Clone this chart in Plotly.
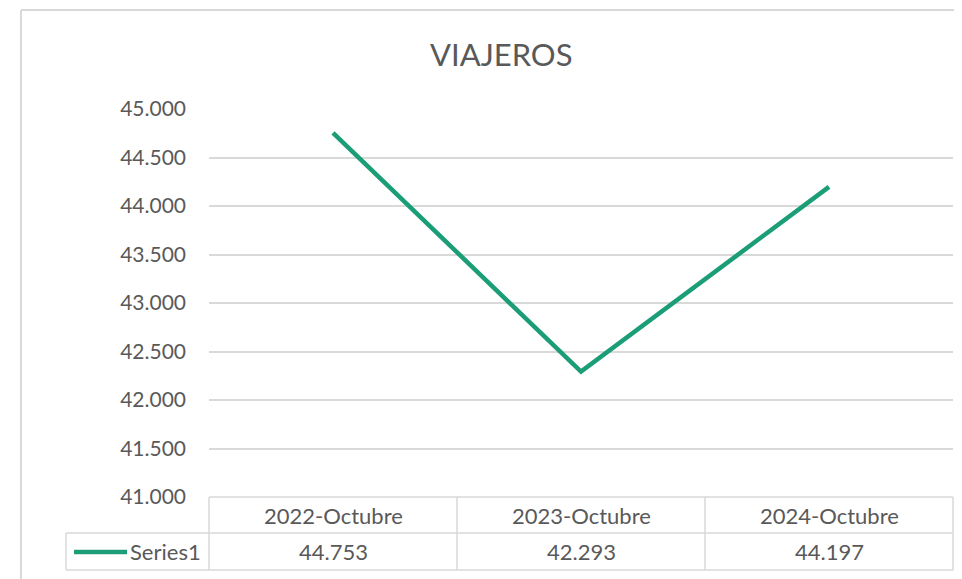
import plotly.graph_objects as go

categories = ["2022-Octubre", "2023-Octubre", "2024-Octubre"]
values = [44753, 42293, 44197]
series_name = "Series1"
title_text = "VIAJEROS"
y_ticks = [41000, 41500, 42000, 42500, 43000, 43500, 44000, 44500, 45000]

W, H = 962, 579
OFF = 8  # page body margin in the browser
FONT = "Lato"
TXT = "#595959"
GRID = "#d9d9d9"
LINE = "#1b9e77"

def px(x):
    return (x - OFF) / W

def py(y):
    return 1 - (y - OFF) / H

x0, x1 = 209, 953
y_top, y_bot = 109, 497
row1_bot, row2_bot = 533, 570
leg_left = 66

def fmt(v):
    return f"{v:,.0f}".replace(",", ".")

fig = go.Figure()
fig.add_trace(go.Scatter(
    x=list(range(len(categories))), y=values, mode="lines",
    line=dict(color=LINE, width=4.5), name=series_name, showlegend=False,
))

shapes = []
border = dict(color=GRID, width=2)
shapes.append(dict(type="line", xref="paper", yref="paper", x0=px(21), x1=1, y0=py(10), y1=py(10), line=border))
shapes.append(dict(type="line", xref="paper", yref="paper", x0=px(21), x1=px(21), y0=0, y1=py(10), line=border))
n = len(categories)
colw = (x1 - x0) / n
hline = dict(color=GRID, width=1.5)
shapes.append(dict(type="line", xref="paper", yref="paper", x0=px(x0), x1=px(x1), y0=py(y_bot), y1=py(y_bot), line=hline))
shapes.append(dict(type="line", xref="paper", yref="paper", x0=px(leg_left), x1=px(x1), y0=py(row1_bot), y1=py(row1_bot), line=hline))
shapes.append(dict(type="line", xref="paper", yref="paper", x0=px(leg_left), x1=px(x1), y0=py(row2_bot), y1=py(row2_bot), line=hline))
shapes.append(dict(type="line", xref="paper", yref="paper", x0=px(leg_left), x1=px(leg_left), y0=py(row1_bot), y1=py(row2_bot), line=hline))
for i in range(n + 1):
    xx = x0 + i * colw
    shapes.append(dict(type="line", xref="paper", yref="paper", x0=px(xx), x1=px(xx), y0=py(y_bot), y1=py(row2_bot), line=hline))
shapes.append(dict(type="line", xref="paper", yref="paper", x0=px(74), x1=px(127), y0=py(552), y1=py(552),
                   line=dict(color=LINE, width=4.5)))

annotations = []
annotations.append(dict(text=title_text, x=px(501), y=py(54), xref="paper", yref="paper",
                        showarrow=False, font=dict(family=FONT, size=31, color=TXT),
                        xanchor="center", yanchor="middle"))
TF = 22
for i, (c, v) in enumerate(zip(categories, values)):
    cx = x0 + (i + 0.5) * colw
    annotations.append(dict(text=c, x=px(cx), y=py((y_bot + row1_bot) / 2), xref="paper", yref="paper",
                            showarrow=False, font=dict(family=FONT, size=TF, color=TXT),
                            xanchor="center", yanchor="middle"))
    annotations.append(dict(text=fmt(v), x=px(cx), y=py((row1_bot + row2_bot) / 2), xref="paper", yref="paper",
                            showarrow=False, font=dict(family=FONT, size=TF, color=TXT),
                            xanchor="center", yanchor="middle"))
annotations.append(dict(text=series_name, x=px(128), y=py((row1_bot + row2_bot) / 2), xref="paper", yref="paper",
                        showarrow=False, font=dict(family=FONT, size=TF, color=TXT),
                        xanchor="left", yanchor="middle"))

fig.update_layout(
    width=W, height=H, margin=dict(l=0, r=0, t=0, b=0, autoexpand=False),
    paper_bgcolor="white", plot_bgcolor="white",
    separators=",.",
    showlegend=False,
    shapes=shapes, annotations=annotations,
    xaxis=dict(domain=[px(x0), px(x1)], range=[-0.5, n - 0.5], showticklabels=False, automargin=False,
               showgrid=False, zeroline=False, showline=False, fixedrange=True),
    yaxis=dict(domain=[py(y_bot), py(y_top)], range=[41000, 45000], tickvals=y_ticks, automargin=False,
               tickformat=",.0f", showgrid=True, gridcolor=GRID, gridwidth=1.5,
               zeroline=False, showline=False, ticks="", ticklabelstandoff=22,
               tickfont=dict(family=FONT, size=21, color=TXT)),
)

fig.write_html("out.html")
